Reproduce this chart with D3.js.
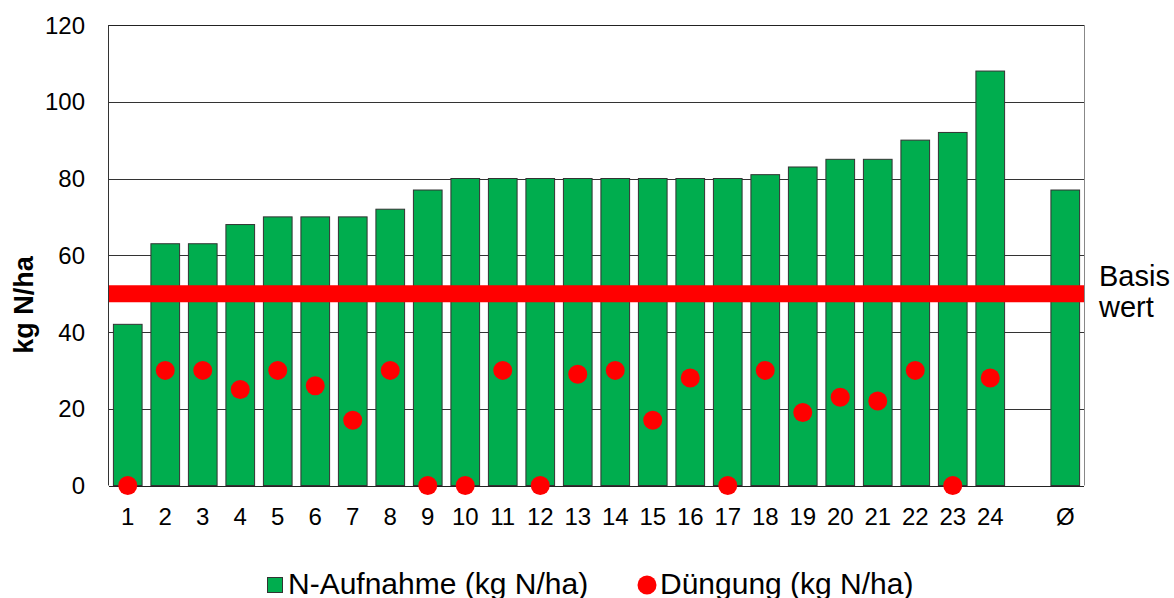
<html>
<head>
<script src='https://d3js.org/d3.v7.min.js'></script>
<style>
  body { margin: 0; background: #fff; }
  text { font-family: 'Liberation Sans', Arial, sans-serif; fill: #000; }
</style>
</head>
<body>
<div id='chartContainer'></div>
<script type='text/javascript'>
  'use strict';

  // categories (one empty slot before the average)
  var categories = ['1','2','3','4','5','6','7','8','9','10','11','12','13','14','15','16','17','18','19','20','21','22','23','24',' ','Ø'];
  // N-Aufnahme (kg N/ha)
  var uptake = [42,63,63,68,70,70,70,72,77,80,80,80,80,80,80,80,80,81,83,85,85,90,92,108,null,77];
  // Düngung (kg N/ha)
  var fertil = [0,30,30,25,30,26,17,30,0,0,30,0,29,30,17,28,0,30,19,23,22,30,0,28,null,null];
  var baseValue = 50;
  var yTicks = [0,20,40,60,80,100,120];

  var width = 1174, height = 598;
  var plotLeft = 109, plotRight = 1084, plotTop = 25, plotBottom = 485.5;

  var svg = d3.select('#chartContainer')
              .append('svg')
                .attr('width', width)
                .attr('height', height);

  var x = d3.scaleBand()
            .domain(categories)
            .range([plotLeft, plotRight])
            .paddingInner(0.235)
            .paddingOuter(0.1175);

  var y = d3.scaleLinear()
            .domain([0, 120])
            .range([plotBottom, plotTop]);

  // gridlines
  svg.selectAll('.grid')
     .data(yTicks.slice(1))
     .enter()
     .append('line')
       .attr('x1', plotLeft).attr('x2', plotRight)
       .attr('y1', function (d) { return Math.round(y(d)) + 0.5; })
       .attr('y2', function (d) { return Math.round(y(d)) + 0.5; })
       .style('stroke', function (d) { return d === 120 ? '#222' : '#333'; })
       .style('stroke-width', 1);

  // right border
  svg.append('line')
     .attr('x1', plotRight + 0.5).attr('x2', plotRight + 0.5)
     .attr('y1', y(120)).attr('y2', plotBottom)
     .style('stroke', '#888');

  // bars
  var barData = categories.map(function (c, i) { return {c: c, v: uptake[i]}; })
                          .filter(function (d) { return d.v != null; });
  svg.selectAll('.bar')
     .data(barData)
     .enter()
     .append('rect')
       .attr('x', function (d) { return x(d.c); })
       .attr('width', x.bandwidth())
       .attr('y', function (d) { return y(d.v); })
       .attr('height', function (d) { return plotBottom - y(d.v); })
       .style('fill', '#00ad4e')
       .style('stroke', '#333')
       .style('stroke-width', 1);

  // axes lines
  svg.append('line')
     .attr('x1', plotLeft - 0.5).attr('x2', plotLeft - 0.5)
     .attr('y1', y(120)).attr('y2', plotBottom)
     .style('stroke', '#333');
  svg.append('line')
     .attr('x1', plotLeft).attr('x2', plotRight)
     .attr('y1', Math.round(plotBottom) + 0.5).attr('y2', Math.round(plotBottom) + 0.5)
     .style('stroke', '#222');

  // Basiswert line
  svg.append('line')
     .attr('x1', plotLeft).attr('x2', plotRight)
     .attr('y1', y(baseValue)).attr('y2', y(baseValue))
     .style('stroke', '#ff0000')
     .style('stroke-width', 17);

  // dots
  var dotData = categories.map(function (c, i) { return {c: c, v: fertil[i]}; })
                          .filter(function (d) { return d.v != null; });
  svg.selectAll('.dot')
     .data(dotData)
     .enter()
     .append('circle')
       .attr('cx', function (d) { return x(d.c) + x.bandwidth() / 2; })
       .attr('cy', function (d) { return y(d.v); })
       .attr('r', 9.5)
       .style('fill', '#ff0000');

  // y tick labels
  svg.selectAll('.ytick')
     .data(yTicks)
     .enter()
     .append('text')
       .attr('x', 85)
       .attr('y', function (d) { return y(d); })
       .attr('dy', '0.36em')
       .attr('text-anchor', 'end')
       .style('font-size', '24px')
       .text(function (d) { return d; });

  // x tick labels
  svg.selectAll('.xtick')
     .data(categories)
     .enter()
     .append('text')
       .attr('x', function (d) { return x(d) + x.bandwidth() / 2; })
       .attr('y', 525)
       .attr('text-anchor', 'middle')
       .style('font-size', '24px')
       .text(function (d) { return d; });

  // y axis title
  svg.append('text')
     .attr('transform', 'translate(33,305) rotate(-90)')
     .attr('text-anchor', 'middle')
     .style('font-size', '27px')
     .style('font-weight', 'bold')
     .text('kg N/ha');

  // Basis wert label
  svg.append('text')
     .attr('x', 1099).attr('y', 286)
     .style('font-size', '29px')
     .text('Basis');
  svg.append('text')
     .attr('x', 1099).attr('y', 317)
     .style('font-size', '29px')
     .text('wert');

  // legend
  svg.append('rect')
     .attr('x', 267.5).attr('y', 577.5)
     .attr('width', 15).attr('height', 15)
     .style('fill', '#00ad4e')
     .style('stroke', '#333');
  svg.append('text')
     .attr('x', 288).attr('y', 594)
     .style('font-size', '30px')
     .text('N-Aufnahme (kg N/ha)');
  svg.append('circle')
     .attr('cx', 647).attr('cy', 585)
     .attr('r', 9.5)
     .style('fill', '#ff0000');
  svg.append('text')
     .attr('x', 660).attr('y', 594)
     .style('font-size', '30px')
     .text('Düngung (kg N/ha)');
</script>
</body>
</html>
